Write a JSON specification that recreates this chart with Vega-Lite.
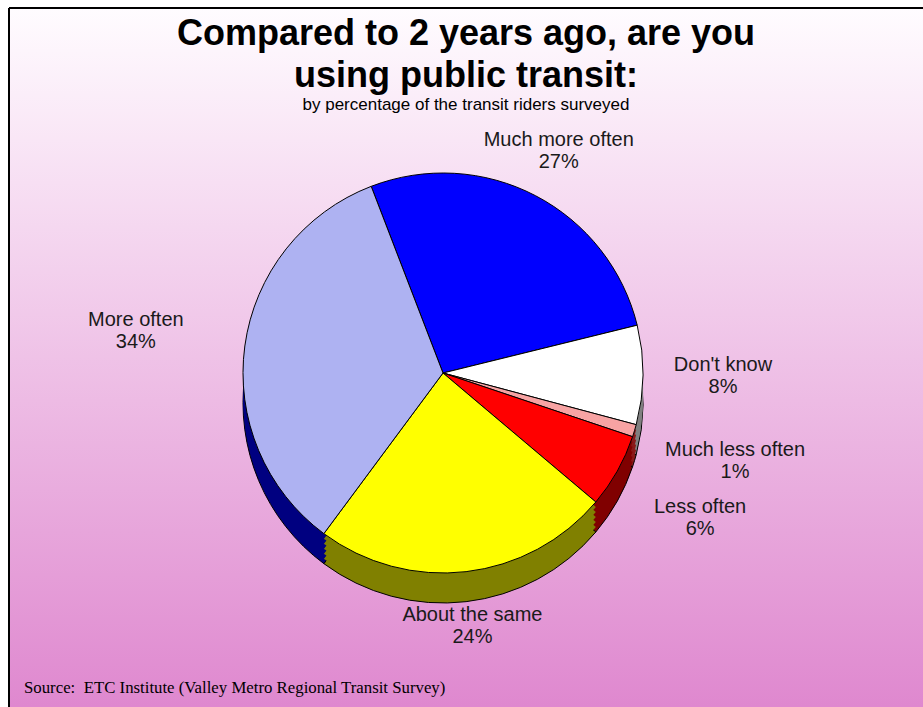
{
  "$schema": "https://vega.github.io/schema/vega-lite/v6.json",
  "width": 914,
  "height": 699,
  "autosize": "none",
  "padding": {"left": 9, "top": 8, "right": 0, "bottom": 0},
  "background": "#FFFFFF",
  "view": {
    "fill": {"gradient": "linear", "x1": 0, "y1": 0, "x2": 0, "y2": 1,
      "stops": [{"offset": 0, "color": "#FFFCFF"}, {"offset": 1, "color": "#DF88CF"}]},
    "stroke": null
  },
  "title": {
    "text": ["Compared to 2 years ago, are you", "using public transit:"],
    "subtitle": "by percentage of the transit riders surveyed",
    "anchor": "middle",
    "frame": "group",
    "offset": -107,
    "font": "Liberation Sans",
    "fontSize": 36,
    "fontWeight": "bold",
    "lineHeight": 42,
    "color": "#000000",
    "subtitleFont": "Liberation Sans",
    "subtitleFontSize": 17,
    "subtitleColor": "#000000",
    "subtitlePadding": 2
  },
  "data": {
    "values": [
      {"answer": "Much more often", "share": 0.27},
      {"answer": "Don't know", "share": 0.08},
      {"answer": "Much less often", "share": 0.01},
      {"answer": "Less often", "share": 0.06},
      {"answer": "About the same", "share": 0.24},
      {"answer": "More often", "share": 0.34}
    ]
  },
  "transform": [{"window": [{"op": "row_number", "as": "rank"}]}],
  "layer": [
    {
      "data": {"values": [{"edge": "left"}]},
      "mark": {"type": "rule", "color": "#000000", "strokeWidth": 2},
      "encoding": {"x": {"value": 0}}
    },
    {
      "data": {"values": [{"edge": "top"}]},
      "mark": {"type": "rule", "color": "#000000", "strokeWidth": 2},
      "encoding": {"y": {"value": 0}}
    },
    {
      "mark": {"type": "arc", "outerRadius": 200, "xOffset": -23, "yOffset": 45.5, "stroke": "#000000", "strokeWidth": 1},
      "encoding": {
        "theta": {"field": "share", "type": "quantitative", "stack": true, "scale": {"range": [-0.367, 5.916]}},
        "order": {"field": "rank", "type": "quantitative"},
        "fill": {"field": "answer", "type": "nominal", "scale": {"domain": ["Much more often", "Don't know", "Much less often", "Less often", "About the same", "More often"], "range": ["#000080", "#808080", "#8B1A1A", "#800000", "#808000", "#000080"]}, "legend": null}
      }
    },
    {
      "mark": {"type": "arc", "outerRadius": 200, "xOffset": -23, "yOffset": 40.5},
      "encoding": {
        "theta": {"field": "share", "type": "quantitative", "stack": true},
        "order": {"field": "rank", "type": "quantitative"},
        "fill": {"field": "answer", "type": "nominal", "legend": null}
      }
    },
    {
      "mark": {"type": "arc", "outerRadius": 200, "xOffset": -23, "yOffset": 35.5},
      "encoding": {
        "theta": {"field": "share", "type": "quantitative", "stack": true},
        "order": {"field": "rank", "type": "quantitative"},
        "fill": {"field": "answer", "type": "nominal", "legend": null}
      }
    },
    {
      "mark": {"type": "arc", "outerRadius": 200, "xOffset": -23, "yOffset": 30.5},
      "encoding": {
        "theta": {"field": "share", "type": "quantitative", "stack": true},
        "order": {"field": "rank", "type": "quantitative"},
        "fill": {"field": "answer", "type": "nominal", "legend": null}
      }
    },
    {
      "mark": {"type": "arc", "outerRadius": 200, "xOffset": -23, "yOffset": 25.5},
      "encoding": {
        "theta": {"field": "share", "type": "quantitative", "stack": true},
        "order": {"field": "rank", "type": "quantitative"},
        "fill": {"field": "answer", "type": "nominal", "legend": null}
      }
    },
    {
      "mark": {"type": "arc", "outerRadius": 200, "xOffset": -23, "yOffset": 20.5},
      "encoding": {
        "theta": {"field": "share", "type": "quantitative", "stack": true},
        "order": {"field": "rank", "type": "quantitative"},
        "fill": {"field": "answer", "type": "nominal", "legend": null}
      }
    },
    {
      "mark": {"type": "arc", "outerRadius": 200, "xOffset": -23, "yOffset": 15.5, "stroke": "#000000", "strokeWidth": 1},
      "encoding": {
        "theta": {"field": "share", "type": "quantitative", "stack": true},
        "order": {"field": "rank", "type": "quantitative"},
        "color": {"field": "answer", "type": "nominal", "scale": {"domain": ["Much more often", "Don't know", "Much less often", "Less often", "About the same", "More often"], "range": ["#0000FF", "#FFFFFF", "#F7A3A3", "#FF0000", "#FFFF00", "#AEB2F2"]}, "legend": null}
      }
    },
    {
      "mark": {"type": "text", "xOffset": -23, "yOffset": 15.5, "dy": -11, "font": "Liberation Sans", "fontSize": 20, "color": "#1A1A1A",
        "radius": {"expr": "datum.answer === 'Much more often' ? 250 : datum.answer === 'Much less often' ? 305 : datum.answer === 'Less often' ? 295 : datum.answer === 'About the same' ? 255 : datum.answer === 'More often' ? 310 : 280"}},
      "encoding": {
        "theta": {"field": "share", "type": "quantitative", "stack": true},
        "order": {"field": "rank", "type": "quantitative"},
        "text": {"field": "answer", "type": "nominal"}
      }
    },
    {
      "mark": {"type": "text", "xOffset": -23, "yOffset": 15.5, "dy": 11, "font": "Liberation Sans", "fontSize": 20, "color": "#1A1A1A",
        "radius": {"expr": "datum.answer === 'Much more often' ? 250 : datum.answer === 'Much less often' ? 305 : datum.answer === 'Less often' ? 295 : datum.answer === 'About the same' ? 255 : datum.answer === 'More often' ? 310 : 280"}},
      "encoding": {
        "theta": {"field": "share", "type": "quantitative", "stack": true},
        "order": {"field": "rank", "type": "quantitative"},
        "text": {"field": "share", "type": "quantitative", "format": ".0%"}
      }
    },
    {
      "data": {"values": [{"note": "Source:\u00a0 ETC Institute (Valley Metro Regional Transit Survey)"}]},
      "mark": {"type": "text", "x": 15, "y": 685, "align": "left", "baseline": "alphabetic", "font": "Liberation Serif", "fontSize": 16.8, "color": "#000000"},
      "encoding": {
        "text": {"field": "note", "type": "nominal"}
      }
    }
  ]
}
